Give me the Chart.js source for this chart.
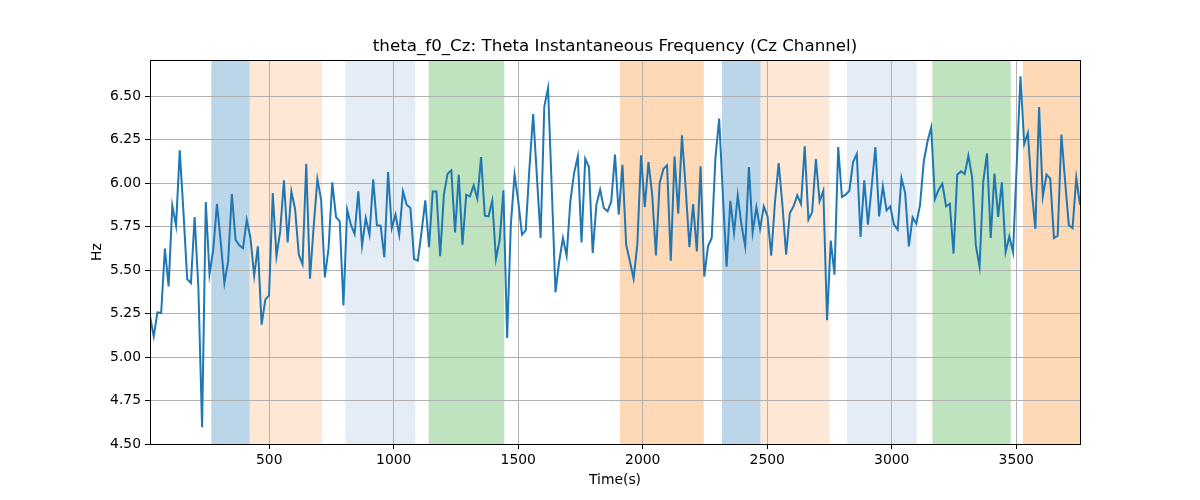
<!DOCTYPE html>
<html>
<head>
<meta charset="utf-8">
<script src="https://cdn.jsdelivr.net/npm/chart.js@4/dist/chart.umd.min.js"></script>
<style>
html,body{margin:0;padding:0;background:#fff;}
#wrap{width:1200px;height:500px;}
</style>
</head>
<body>
<div id="wrap"><canvas id="c" width="1200" height="500"></canvas></div>
<script>
// ---- data ----
const TIME_START = 21;      // first sample time (s)
const TIME_STEP = 14.94;    // sampling interval (s)
const thetaFreq = [
5.234,5.119,5.257,5.253,5.623,5.406,5.870,5.755,6.188,5.83,
5.448,5.425,5.805,5.40,4.596,5.891,5.477,5.617,5.881,5.665,
5.425,5.55,5.937,5.674,5.642,5.626,5.789,5.684,5.467,5.636,
5.186,5.330,5.354,5.943,5.579,5.722,6.015,5.659,5.952,5.851,
5.588,5.534,6.111,5.450,5.75,6.023,5.904,5.458,5.626,6.004,
5.805,5.78,5.297,5.847,5.761,5.707,5.952,5.640,5.799,5.703,
6.021,5.757,5.755,5.573,6.063,5.741,5.818,5.703,5.952,5.875,
5.856,5.563,5.554,5.72,5.900,5.632,5.952,5.952,5.579,5.933,
6.054,6.073,5.716,6.048,5.646,5.933,5.923,5.987,5.910,6.149,
5.812,5.808,5.898,5.563,5.674,5.958,5.109,5.761,6.048,5.895,
5.703,5.728,6.086,6.397,6.04,5.684,6.441,6.546,5.97,5.372,
5.55,5.684,5.582,5.895,6.057,6.153,5.659,6.140,6.092,5.598,
5.875,5.962,5.856,5.837,5.895,6.163,5.818,6.105,5.646,5.55,
5.450,5.646,6.159,5.862,6.121,5.933,5.584,6.000,6.080,6.102,
5.554,6.153,5.824,6.274,5.97,5.632,5.879,5.607,6.096,5.462,
5.636,5.684,6.144,6.370,5.93,5.519,5.898,5.713,5.929,5.76,
5.636,6.092,5.716,5.860,5.736,5.866,5.808,5.582,5.89,6.115,
5.875,5.588,5.828,5.866,5.929,5.879,6.211,5.789,5.833,6.138,
5.895,5.956,5.211,5.669,5.473,6.207,5.920,5.933,5.956,6.121,
6.167,5.690,6.015,5.761,5.98,6.207,5.808,5.981,5.843,5.866,
5.761,5.732,6.029,5.943,5.636,5.803,5.766,5.875,6.124,6.239,
6.320,5.908,5.962,5.996,5.866,5.881,5.594,6.048,6.067,6.052,
6.157,6.033,5.642,5.519,6.010,6.170,5.684,6.054,5.805,6.004,
5.603,5.693,5.602,6.11,6.613,6.224,6.287,5.96,5.736,6.437,
5.923,6.048,6.025,5.684,5.697,6.278,6.01,5.757,5.741,6.029,
5.875
];
const bandStarts = [267, 421, 806, 1140, 1908, 2318, 2473, 2820, 3163, 3527];
const bandEnds   = [421, 712, 1086, 1444, 2245, 2473, 2750, 3100, 3478, 3800];
const bandKinds  = ['blue','lightorange','lightblue','green','orange','blue','lightorange','lightblue','green','orange'];
const xTicks = [500, 1000, 1500, 2000, 2500, 3000, 3500];
const yTicks = [4.50, 4.75, 5.00, 5.25, 5.50, 5.75, 6.00, 6.25, 6.50];
const Y_MIN = 4.5, Y_MAX = 6.707;

// ---- build ----
const times = thetaFreq.map((_, i) => TIME_START + i * TIME_STEP);
const points = thetaFreq.map((v, i) => ({x: times[i], y: v}));
const X_MIN = times[0], X_MAX = times[times.length - 1];

const bandColors = {
  blue: 'rgba(31,119,180,0.3)',
  lightorange: 'rgba(255,127,14,0.17)',
  lightblue: 'rgb(228,236,246)',
  green: 'rgba(44,160,44,0.3)',
  orange: 'rgba(255,127,14,0.3)'
};

const FONT = "'DejaVu Sans', sans-serif";

const bandsPlugin = {
  id: 'bands',
  beforeDraw(chart) {
    const {ctx, chartArea: a, scales: {x}} = chart;
    ctx.save();
    ctx.beginPath();
    ctx.rect(a.left, a.top, a.right - a.left, a.bottom - a.top);
    ctx.clip();
    for (let i = 0; i < bandStarts.length; i++) {
      const x0 = x.getPixelForValue(bandStarts[i]);
      const x1 = x.getPixelForValue(bandEnds[i]);
      ctx.fillStyle = bandColors[bandKinds[i]];
      ctx.fillRect(x0, a.top, x1 - x0, a.bottom - a.top);
    }
    ctx.restore();
  },
  afterDraw(chart) {
    const {ctx, chartArea: a} = chart;
    ctx.save();
    ctx.strokeStyle = '#000';
    ctx.lineWidth = 1;
    ctx.strokeRect(Math.round(a.left) + 0.5, Math.round(a.top) + 0.5,
                   Math.round(a.right - a.left), Math.round(a.bottom - a.top));
    ctx.restore();
  }
};

new Chart(document.getElementById('c'), {
  type: 'line',
  data: {
    datasets: [{
      data: points,
      borderColor: '#1f77b4',
      borderWidth: 2,
      pointRadius: 0,
      tension: 0,
      fill: false
    }]
  },
  options: {
    responsive: false,
    animation: false,
    devicePixelRatio: 1,
    layout: {padding: {left: 30, right: 0, top: 0, bottom: 0}},
    plugins: {
      legend: {display: false},
      tooltip: {enabled: false},
      title: {
        display: true,
        text: 'theta_f0_Cz: Theta Instantaneous Frequency (Cz Channel)',
        color: '#000',
        font: {family: FONT, size: 16.7, weight: 'normal'},
        padding: {top: 37, bottom: 3}
      }
    },
    scales: {
      x: {
        type: 'linear',
        min: X_MIN,
        max: X_MAX,
        afterBuildTicks(s) { s.ticks = xTicks.map(v => ({value: v})); },
        afterFit(s) { s.height = 56; },
        ticks: {
          color: '#000',
          font: {family: FONT, size: 13.9},
          padding: 3,
          maxRotation: 0,
          autoSkip: false,
          callback: v => String(v)
        },
        grid: {color: '#b0b0b0', lineWidth: 1, tickLength: 5, tickColor: '#000', drawTicks: true},
        border: {display: true, color: '#000', width: 1},
        title: {
          display: true, text: 'Time(s)', color: '#000',
          font: {family: FONT, size: 13.9},
          padding: {top: 0, bottom: 11}
        }
      },
      y: {
        type: 'linear',
        min: Y_MIN,
        max: Y_MAX,
        afterBuildTicks(s) { s.ticks = yTicks.map(v => ({value: v})); },
        afterFit(s) { s.width = 120; },
        ticks: {
          color: '#000',
          font: {family: FONT, size: 13.9},
          padding: 4,
          autoSkip: false,
          callback: v => Number(v).toFixed(2)
        },
        grid: {color: '#b0b0b0', lineWidth: 1, tickLength: 5, tickColor: '#000', drawTicks: true},
        border: {display: true, color: '#000', width: 1},
        title: {
          display: true, text: 'Hz', color: '#000',
          font: {family: FONT, size: 13.9},
          padding: {top: 59, bottom: 0}
        }
      },
      yRight: {
        type: 'linear',
        position: 'right',
        display: true,
        min: Y_MIN,
        max: Y_MAX,
        afterFit(s) { s.width = 120; },
        ticks: {display: false},
        grid: {display: false, drawTicks: false},
        border: {display: false},
        title: {display: false}
      }
    }
  },
  plugins: [bandsPlugin]
});
</script>
</body>
</html>
